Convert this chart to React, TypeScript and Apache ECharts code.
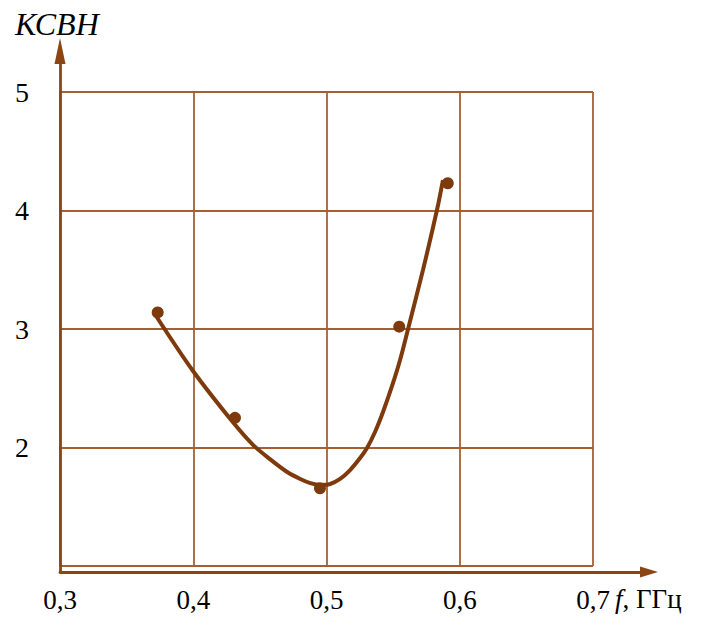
import React, { useEffect, useRef } from "react";
import * as echarts from "echarts";

const xTicks = [0.3, 0.4, 0.5, 0.6, 0.7];
const yTicks = [1, 2, 3, 4, 5];
const measuredF = [0.3733, 0.4313, 0.4951, 0.5546, 0.591];
const measuredK = [3.14, 2.25, 1.656, 3.02, 4.23];
const curveF = [0.3716, 0.3993, 0.43, 0.445, 0.4578, 0.4705, 0.4803, 0.4878, 0.4953, 0.5027, 0.5102, 0.5177, 0.5252, 0.5304, 0.5364, 0.5424, 0.5492, 0.5552, 0.5612, 0.5724, 0.5829, 0.5874];
const curveK = [3.118, 2.654, 2.21, 2.02, 1.9, 1.793, 1.734, 1.7, 1.684, 1.692, 1.735, 1.81, 1.911, 1.996, 2.131, 2.3, 2.519, 2.738, 3.0, 3.498, 4.004, 4.257];
const yName = "КСВН";
const xNameItalic = "f";
const xNameRest = ", ГГц";

const FONT = '"Times New Roman", "Liberation Serif", "DejaVu Serif", serif';
const GRID_COLOR = "#a65f33";
const AXIS_COLOR = "#8b4513";
const CURVE_COLOR = "#7e3a0c";

export default function App() {
  const ref = useRef<HTMLDivElement>(null);
  useEffect(() => {
    if (!ref.current) return;
    const chart = echarts.init(ref.current, null, { renderer: "svg" });
    const fmt = (v: number) => String(Math.round(v * 10) / 10).replace(".", ",");
    chart.setOption({
      animation: false,
      textStyle: { fontFamily: FONT },
      grid: [
        { left: 60, right: 116, top: 92, bottom: 52 },
        { left: 60, right: 60, top: 51, bottom: 46 },
      ],
      xAxis: [
        {
          type: "value",
          gridIndex: 0,
          min: xTicks[0],
          max: xTicks[xTicks.length - 1],
          interval: 0.1,
          axisLine: { show: false },
          axisTick: { show: false },
          splitLine: { show: true, lineStyle: { color: GRID_COLOR, width: 1.8 } },
          axisLabel: {
            margin: 20,
            fontFamily: FONT,
            fontSize: 27,
            color: "#000",
            formatter: fmt,
          },
        },
        {
          type: "value",
          gridIndex: 1,
          min: 0,
          max: 1,
          axisLine: {
            show: true,
            onZero: false,
            lineStyle: { color: AXIS_COLOR, width: 2.8 },
            symbol: ["none", "triangle"],
            symbolSize: [11, 18],
          },
          axisTick: { show: false },
          axisLabel: { show: false },
          splitLine: { show: false },
        },
      ],
      yAxis: [
        {
          type: "value",
          gridIndex: 0,
          min: yTicks[0],
          max: yTicks[yTicks.length - 1],
          interval: 1,
          axisLine: { show: false },
          axisTick: { show: false },
          splitLine: { show: true, lineStyle: { color: GRID_COLOR, width: 1.8 } },
          axisLabel: {
            margin: 31,
            fontFamily: FONT,
            fontSize: 28,
            color: "#000",
            formatter: (v: number) => (v === yTicks[0] ? "" : String(v)),
          },
        },
        {
          type: "value",
          gridIndex: 1,
          min: 0,
          max: 1,
          axisLine: {
            show: true,
            onZero: false,
            lineStyle: { color: AXIS_COLOR, width: 2.8 },
            symbol: ["none", "triangle"],
            symbolSize: [11, 26],
          },
          axisTick: { show: false },
          axisLabel: { show: false },
          splitLine: { show: false },
        },
      ],
      series: [
        {
          type: "line",
          xAxisIndex: 0,
          yAxisIndex: 0,
          data: curveF.map((f, i) => [f, curveK[i]]),
          smooth: 0.3,
          showSymbol: false,
          lineStyle: { color: CURVE_COLOR, width: 4 },
          z: 3,
        },
        {
          type: "scatter",
          xAxisIndex: 0,
          yAxisIndex: 0,
          data: measuredF.map((f, i) => [f, measuredK[i]]),
          symbol: "circle",
          symbolSize: 12,
          itemStyle: { color: CURVE_COLOR, opacity: 1 },
          z: 4,
        },
      ],
      graphic: [
        {
          type: "text",
          left: 15,
          top: 8,
          style: {
            text: yName,
            fontFamily: FONT,
            fontStyle: "italic",
            fontSize: 32,
            fill: "#000",
          },
        },
        {
          type: "text",
          left: 615,
          top: 585,
          style: {
            text: `{i|${xNameItalic}}{n|${xNameRest}}`,
            rich: {
              i: { fontFamily: FONT, fontStyle: "italic", fontSize: 27, fill: "#000" },
              n: { fontFamily: FONT, fontSize: 27, fill: "#000" },
            },
          },
        },
      ],
    });
    return () => chart.dispose();
  }, []);
  return <div ref={ref} style={{ width: 709, height: 618, position: "absolute", left: 0, top: 0 }} />;
}
